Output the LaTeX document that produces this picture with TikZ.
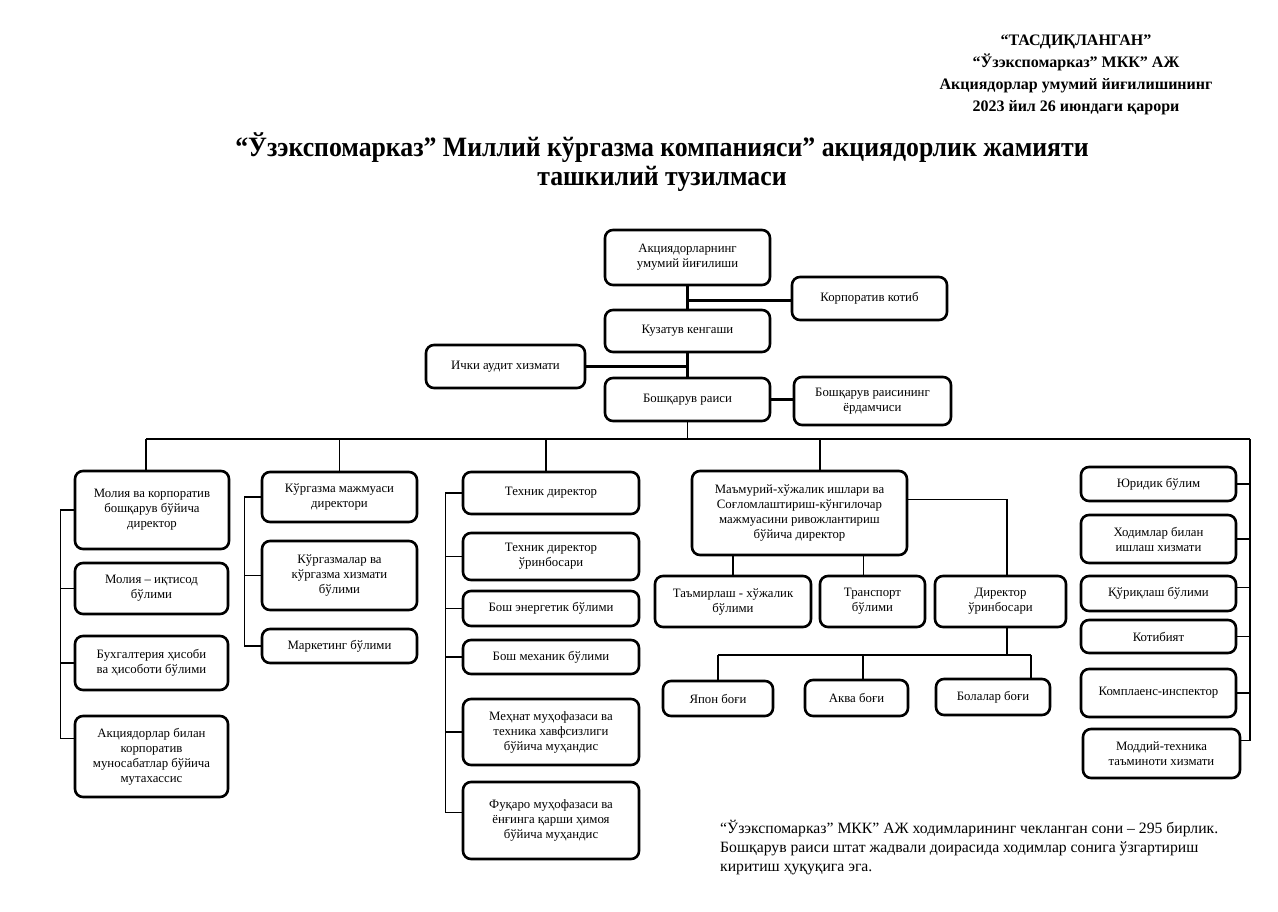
\documentclass[tikz,border=0pt]{standalone}
\usepackage{fontspec}
\setmainfont{Liberation Serif}
\usetikzlibrary{calc}
\newcommand\bx[6]{\node[box, minimum width={#4-#2}, minimum height={#5-#3}] (#1) at ({(#2+#4)/2},{(#3+#5)/2}) {#6};}
\tikzset{
  box/.style={draw, line width=2.6pt, rounded corners=8pt, fill=white, align=center, inner sep=2pt,
    font=\fontsize{12.8}{15}\selectfont},
  trunk/.style={line width=3pt},
  bus/.style={line width=1.4pt},
  hdr/.style={anchor=base, font=\bfseries\fontsize{16}{19}\selectfont, inner sep=0pt},
  ttl/.style={anchor=base, font=\bfseries\fontsize{28}{32}\selectfont, inner sep=0pt},
  note/.style={anchor=base west, font=\fontsize{15.7}{19}\selectfont, inner sep=0pt}
}
\begin{document}
\begin{tikzpicture}[x=1pt,y=-1pt]
\useasboundingbox[fill=white] (0,0) rectangle (1278,912);
% header
\node[hdr] (h1) at (1076,46) {“ТАСДИҚЛАНГАН”};
\node[hdr] (h2) at (1076,68) {“Ўзэкспомарказ” МКК” АЖ};
\node[hdr] (h3) at (1076,90) {Акциядорлар умумий йиғилишининг};
\node[hdr] (h4) at (1076,112) {2023 йил 26 июндаги қарори};
% title
\node[ttl] (t1l) at (662,157) {\scalebox{0.92}[1]{“Ўзэкспомарказ” Миллий кўргазма компанияси” акциядорлик жамияти}};
\node[ttl] (t2l) at (662,186) {\scalebox{0.92}[1]{ташкилий тузилмаси}};
% top boxes
\bx{agm}{605}{230}{770}{285}{Акциядорларнинг\\умумий йиғилиши}
\bx{kotib}{792}{277}{947}{320}{Корпоратив котиб}
\bx{kuz}{605}{310}{770}{352}{Кузатув кенгаши}
\bx{audit}{426}{345}{585}{388}{Ички аудит хизмати}
\bx{rais}{605}{378}{770}{421}{Бошқарув раиси}
\bx{yordam}{794}{377}{951}{425}{Бошқарув раисининг\\ёрдамчиси}
% column 1
\bx{m1}{75}{471}{229}{549}{Молия ва корпоратив\\бошқарув бўйича\\директор}
\bx{m2}{75}{563}{228}{614}{Молия – иқтисод\\бўлими}
\bx{m3}{75}{636}{228}{690}{Бухгалтерия ҳисоби\\ва ҳисоботи бўлими}
\bx{m4}{75}{716}{228}{797}{Акциядорлар билан\\корпоратив\\муносабатлар бўйича\\мутахассис}
% column 2
\bx{k1}{262}{472}{417}{522}{Кўргазма мажмуаси\\директори}
\bx{k2}{262}{541}{417}{610}{Кўргазмалар ва\\кўргазма хизмати\\бўлими}
\bx{k3}{262}{629}{417}{663}{Маркетинг бўлими}
% column 3
\bx{t1}{463}{472}{639}{514}{Техник директор}
\bx{t2}{463}{533}{639}{580}{Техник директор\\ўринбосари}
\bx{t3}{463}{591}{639}{626}{Бош энергетик бўлими}
\bx{t4}{463}{640}{639}{674}{Бош механик бўлими}
\bx{t5}{463}{699}{639}{765}{Меҳнат муҳофазаси ва\\техника хавфсизлиги\\бўйича муҳандис}
\bx{t6}{463}{782}{639}{859}{Фуқаро муҳофазаси ва\\ёнғинга қарши ҳимоя\\бўйича муҳандис}
% column 4
\bx{mam}{692}{471}{907}{555}{Маъмурий-хўжалик ишлари ва\\Соғломлаштириш-кўнгилочар\\мажмуасини ривожлантириш\\бўйича директор}
\bx{tam}{655}{576}{811}{627}{Таъмирлаш - хўжалик\\бўлими}
\bx{trans}{820}{576}{925}{627}{Транспорт\\бўлими}
\bx{dir}{935}{576}{1066}{627}{Директор\\ўринбосари}
\bx{yapon}{663}{681}{773}{716}{Япон боғи}
\bx{akva}{805}{680}{908}{716}{Аква боғи}
\bx{bolalar}{936}{679}{1050}{715}{Болалар боғи}
% column 5
\bx{r1}{1081}{467}{1236}{501}{Юридик бўлим}
\bx{r2}{1081}{515}{1236}{563}{Ходимлар билан\\ишлаш хизмати}
\bx{r3}{1081}{576}{1236}{611}{Қўриқлаш бўлими}
\bx{r4}{1081}{620}{1236}{653}{Котибият}
\bx{r5}{1081}{669}{1236}{717}{Комплаенс-инспектор}
\bx{r6}{1083}{729}{1240}{778}{Моддий-техника\\таъминоти хизмати}
% top connectors
\draw[trunk] (agm.south) -- (kuz.north);
\draw[trunk] (kuz.south) -- (rais.north);
\draw[trunk] ([yshift=-2.5pt]kotib.west) -- ([yshift=-2.5pt]kotib.west -| agm.south);
\draw[trunk] (audit.east) -- (audit.east -| rais.north);
\draw[trunk] (rais.east) -- (rais.east -| yordam.west);
% bus
\coordinate (busL) at (146,439);
\coordinate (busR) at (1250,439);
\coordinate (bus3) at (546,439);
\coordinate (bus4) at (820,439);
\draw[bus] (rais.south) -- (rais.south |- busL);
\draw[bus] (busL) -- (busR);
\draw[bus] (busL) -- (busL |- m1.north);
\draw[bus] (k1.north |- busL) -- (k1.north);
\draw[bus] (bus3) -- (bus3 |- t1.north);
\draw[bus] (bus4) -- (bus4 |- mam.north);
% column 1 bracket
\draw[bus] (m1.west) -- ++(-13,0) coordinate (b1) |- ([yshift=18pt]m4.west);
\draw[bus] (m2.west) -- (m2.west -| b1);
\draw[bus] (m3.west) -- (m3.west -| b1);
% column 2 bracket
\draw[bus] (k1.west) -- ++(-16,0) coordinate (b2) |- (k3.west);
\draw[bus] (k2.west) -- (k2.west -| b2);
% column 3 bracket
\draw[bus] (t1.west) -- ++(-16,0) coordinate (b3) |- ([yshift=8pt]t6.west);
\draw[bus] (t2.west) -- (t2.west -| b3);
\draw[bus] (t3.west) -- (t3.west -| b3);
\draw[bus] (t4.west) -- (t4.west -| b3);
\draw[bus] (t5.west) -- (t5.west -| b3);
% column 4
\draw[bus] ([yshift=13.5pt]mam.east) -| ([xshift=6.5pt]dir.north);
\draw[bus] (tam.north |- mam.south) -- (tam.north);
\draw[bus] ([xshift=-9pt]trans.north |- mam.south) -- ([xshift=-9pt]trans.north);
\coordinate (gbus) at (0,655);
\draw[bus] ([xshift=6.5pt]dir.south) -- ([xshift=6.5pt]dir.south |- gbus);
\draw[bus] (yapon.north |- gbus) -- ([xshift=38pt]bolalar.north |- gbus);
\draw[bus] (yapon.north |- gbus) -- (yapon.north);
\draw[bus] ([xshift=6.5pt]akva.north |- gbus) -- ([xshift=6.5pt]akva.north);
\draw[bus] ([xshift=38pt]bolalar.north |- gbus) -- ([xshift=38pt]bolalar.north);
% column 5
\path ([yshift=13pt]r6.west) coordinate (r6c) ([yshift=6pt]r3.west) coordinate (r3c);
\draw[bus] (busR) -- (busR |- r6c) -- (r6.east |- r6c);
\draw[bus] (r1.east) -- (r1.east -| busR);
\draw[bus] (r2.east) -- (r2.east -| busR);
\draw[bus] (r3.east |- r3c) -- (busR |- r3c);
\draw[bus] (r4.east) -- (r4.east -| busR);
\draw[bus] (r5.east) -- (r5.east -| busR);
% note
\node[note] (n1) at (720,833) {“Ўзэкспомарказ” МКК” АЖ ходимларининг чекланган сони – 295 бирлик.};
\node[note] (n2) at (720,852) {Бошқарув раиси штат жадвали доирасида ходимлар сонига ўзгартириш};
\node[note] (n3) at (720,871) {киритиш ҳуқуқига эга.};
\end{tikzpicture}
\end{document}
